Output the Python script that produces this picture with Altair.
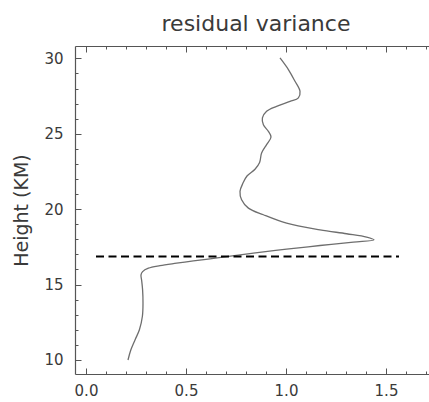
import altair as alt
import pandas as pd

# Residual variance profile (x) versus height in km (h)
heights = [10.0, 10.66, 11.33, 12.0, 12.9, 13.77, 14.65, 15.3, 15.64, 15.86,
           16.09, 16.26, 16.42, 16.57, 16.71, 16.86, 17.08, 17.35, 17.59, 17.82,
           17.97, 18.15, 18.37, 18.63, 19.07, 19.63, 20.07, 20.62, 21.18, 21.73,
           22.2, 22.65, 23.1, 23.72, 24.28, 24.79, 25.16, 25.6, 26.05, 26.49,
           26.82, 27.15, 27.38, 27.82, 28.48, 29.26, 30.03]
variance = [0.21, 0.224, 0.245, 0.267, 0.282, 0.285, 0.283, 0.278, 0.275, 0.283,
            0.312, 0.37, 0.453, 0.537, 0.62, 0.703, 0.837, 1.003, 1.17, 1.337,
            1.44, 1.403, 1.303, 1.17, 1.003, 0.887, 0.812, 0.778, 0.77, 0.785,
            0.805, 0.845, 0.868, 0.878, 0.903, 0.925, 0.912, 0.887, 0.882, 0.903,
            0.953, 1.02, 1.062, 1.07, 1.045, 1.012, 0.97]

# Dashed reference line (tropopause height)
ref_height = [16.86]
ref_x_start = [0.05]
ref_x_end = [1.565]

# Axis ticks
x_labels = [0.0, 0.5, 1.0, 1.5]
x_ticks = [0.0, 0.1, 0.2, 0.3, 0.4, 0.5, 0.6, 0.7, 0.8, 0.9,
           1.0, 1.1, 1.2, 1.3, 1.4, 1.5, 1.6, 1.7]
y_labels = [10, 15, 20, 25, 30]
y_ticks = [10, 11, 12, 13, 14, 15, 16, 17, 18, 19, 20,
           21, 22, 23, 24, 25, 26, 27, 28, 29, 30]

x_domain = [-0.055, 1.715]
y_domain = [9.07, 30.82]

W, H = 354, 328
FONT = "DejaVu Sans"
AX = "#555555"
TXT = "#3a3a3a"

curve = pd.DataFrame({"h": heights, "v": variance, "i": list(range(len(heights)))})
ref = pd.DataFrame({"h": ref_height, "x1": ref_x_start, "x2": ref_x_end})

xs = alt.Scale(domain=x_domain, nice=False, zero=False)
ys = alt.Scale(domain=y_domain, nice=False, zero=False)

x_major = {"condition": {"test": "abs(datum.value*2 - round(datum.value*2)) < 0.001", "value": 6}, "value": 3}
y_major = {"condition": {"test": "abs(datum.value/5 - round(datum.value/5)) < 0.001", "value": 6}, "value": 3}

# Layer A: the curve, with bottom labels and left labels
line = alt.Chart(curve).mark_line(color="#6e6e6e", strokeWidth=1.3, interpolate="catmull-rom").encode(
    x=alt.X("v:Q", scale=xs, axis=alt.Axis(
        orient="bottom", values=x_labels, format=".1f", ticks=False, tickSize=0,
        domain=True, domainColor=AX, domainWidth=1.2, grid=False, title=None,
        labelFont=FONT, labelFontSize=15, labelColor=TXT, labelPadding=9)),
    y=alt.Y("h:Q", scale=ys, axis=alt.Axis(
        orient="left", values=y_labels, format="d", ticks=False, tickSize=0,
        domain=True, domainColor=AX, domainWidth=1.2, grid=False,
        title="Height (KM)", titleFont=FONT, titleFontSize=19, titleFontWeight="normal",
        titleColor=TXT, titleAngle=270, titleX=-54, titleY=H / 2,
        titleAlign="center", titleBaseline="middle",
        labelFont=FONT, labelFontSize=15, labelColor=TXT, labelPadding=12)),
    order="i:Q",
)

# Layer B: dashed reference line, with inward ticks on the bottom and left edges
dashed = alt.Chart(ref).mark_rule(color="black", strokeWidth=2, strokeDash=[8, 4.5]).encode(
    x=alt.X("x1:Q", scale=xs, axis=alt.Axis(
        orient="top", offset=-H, values=x_ticks, labels=False, domain=False,
        grid=False, title=None, ticks=True, tickColor=AX, tickWidth=1, tickSize=x_major)),
    x2="x2:Q",
    y=alt.Y("h:Q", scale=ys, axis=alt.Axis(
        orient="right", offset=-W, values=y_ticks, labels=False, domain=False,
        grid=False, title=None, ticks=True, tickColor=AX, tickWidth=1, tickSize=y_major)),
)

# Layer C: top frame line with downward ticks
top = alt.Chart(curve).mark_line(opacity=0).encode(
    x=alt.X("v:Q", scale=xs, axis=alt.Axis(
        orient="bottom", offset=-H, values=x_ticks, labels=False, domain=True,
        domainColor=AX, domainWidth=1.2, grid=False, title=None, ticks=True,
        tickColor=AX, tickWidth=1, tickSize=x_major)),
    y=alt.Y("h:Q", scale=ys, axis=None),
    order="i:Q",
)

chart = alt.layer(line, dashed, top).resolve_axis(
    x="independent", y="independent"
).properties(
    width=W, height=H,
    autosize=alt.AutoSizeParams(type="none"),
    padding={"left": 75, "top": 46, "right": 0, "bottom": 28},
    title=alt.TitleParams("residual variance", font=FONT, fontSize=22,
                          fontWeight="normal", color=TXT, anchor="middle",
                          frame="group", baseline="alphabetic", offset=18, dx=4, dy=25),
    background="white",
).configure_view(stroke=None)

chart.save("out.html", embed_options={"renderer": "svg", "actions": False})
